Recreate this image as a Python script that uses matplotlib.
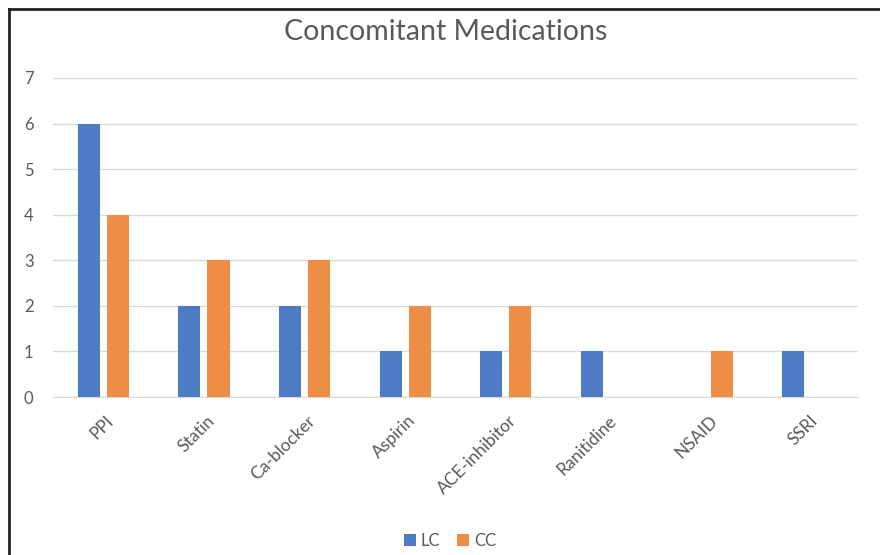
import matplotlib
matplotlib.use("Agg")
import matplotlib.pyplot as plt
import numpy as np
from matplotlib.lines import Line2D

categories = ["PPI", "Statin", "Ca-blocker", "Aspirin", "ACE-inhibitor", "Ranitidine", "NSAID", "SSRI"]
lc_values = [6, 2, 2, 1, 1, 1, 0, 1]
cc_values = [4, 3, 3, 2, 2, 0, 1, 0]
series_names = ["LC", "CC"]
y_ticks = [0, 1, 2, 3, 4, 5, 6, 7]

plt.rcParams['font.family'] = ['Lato', 'DejaVu Sans']

fig = plt.figure(figsize=(8.8, 5.55), dpi=100)
ax = fig.add_axes([53/880, 1-397/555, (858-53)/880, (397-78)/555])

x = np.arange(len(categories))
w = 0.22
off = 0.145
blue = "#4D7CC4"
orange = "#EE8D45"
ax.bar(x - off, lc_values, width=w, color=blue, label=series_names[0], zorder=3)
ax.bar(x + off, cc_values, width=w, color=orange, label=series_names[1], zorder=3)

ax.set_xlim(-0.5, len(categories) - 0.5)
ax.set_ylim(0, 7)
ax.set_yticks(y_ticks)
ax.yaxis.grid(True, color="#D9D9D9", linewidth=1, zorder=0)
ax.set_axisbelow(True)
for s in ["top", "right", "left"]:
    ax.spines[s].set_visible(False)
ax.spines["bottom"].set_color("#D9D9D9")
ax.tick_params(axis="both", length=0, colors="#595959", labelsize=12)
ax.tick_params(axis="y", pad=14)
ax.set_xticks(x + 0.02)
ax.set_xticklabels(categories, rotation=45, ha="right", rotation_mode="anchor", fontsize=12.5)
ax.tick_params(axis="x", pad=11)

fig.text(446/880, 1-32/555, "Concomitant Medications", ha="center", va="center",
         fontsize=20.5, color="#595959")

leg = fig.legend(loc="center", bbox_to_anchor=(450/880, 1-541/555), ncol=2, frameon=False,
                 fontsize=12, handlelength=0.7, handleheight=0.7, handletextpad=0.3,
                 columnspacing=1.0)
for t in leg.get_texts():
    t.set_color("#595959")

# border on left and top
fig.add_artist(Line2D([9/880, 9/880], [0, 1-9/555], transform=fig.transFigure, color="#222222", linewidth=2))
fig.add_artist(Line2D([9/880, 1], [1-9/555, 1-9/555], transform=fig.transFigure, color="#222222", linewidth=2))

fig.savefig("out.png", dpi=100, facecolor="white")
